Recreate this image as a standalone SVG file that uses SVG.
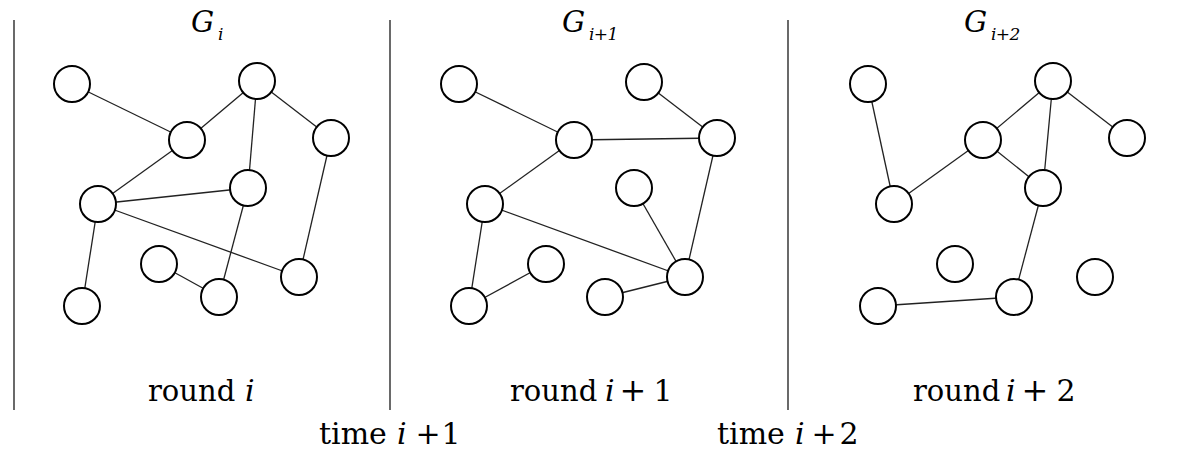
<svg xmlns="http://www.w3.org/2000/svg" width="1181" height="449" viewBox="0 0 1181 449">
<style>
.n{fill:#fff;stroke:#000;stroke-width:2}
.e{stroke:#222;stroke-width:1.3;fill:none}
.sep{stroke:#444;stroke-width:1.6}
.t{font-family:"DejaVu Serif","Liberation Serif",serif;font-size:30px;fill:#000}
.r{font-size:29px}
.it{font-style:italic}
.m{text-anchor:middle}
.p{font-size:32px}
.g{font-family:"DejaVu Serif","Liberation Serif",serif;font-size:29px;font-style:italic;fill:#000}
.s{font-size:17px;letter-spacing:-0.6px}
</style>
<rect width="1181" height="449" fill="#fff"/>
<g id="separators">
<line class="sep" x1="14" y1="20" x2="14" y2="410"/>
<line class="sep" x1="390" y1="20" x2="390" y2="410"/>
<line class="sep" x1="788" y1="20" x2="788" y2="410"/>
</g>
<g id="connectors">
<line class="e" x1="72" y1="84" x2="187" y2="140"/>
<line class="e" x1="187" y1="140" x2="257" y2="81"/>
<line class="e" x1="257" y1="81" x2="248" y2="188"/>
<line class="e" x1="257" y1="81" x2="331" y2="138"/>
<line class="e" x1="187" y1="140" x2="98" y2="204"/>
<line class="e" x1="98" y1="204" x2="248" y2="188"/>
<line class="e" x1="98" y1="204" x2="299" y2="277"/>
<line class="e" x1="98" y1="204" x2="82" y2="306"/>
<line class="e" x1="248" y1="188" x2="219" y2="297"/>
<line class="e" x1="159" y1="264" x2="219" y2="297"/>
<line class="e" x1="331" y1="138" x2="299" y2="277"/>
<line class="e" x1="459" y1="84" x2="574" y2="140"/>
<line class="e" x1="644" y1="82" x2="717" y2="138"/>
<line class="e" x1="574" y1="140" x2="717" y2="138"/>
<line class="e" x1="574" y1="140" x2="485" y2="204"/>
<line class="e" x1="717" y1="138" x2="685" y2="277"/>
<line class="e" x1="634" y1="188" x2="685" y2="277"/>
<line class="e" x1="485" y1="204" x2="685" y2="277"/>
<line class="e" x1="485" y1="204" x2="469" y2="306"/>
<line class="e" x1="469" y1="306" x2="546" y2="264"/>
<line class="e" x1="605" y1="297" x2="685" y2="277"/>
<line class="e" x1="868" y1="84" x2="894" y2="204"/>
<line class="e" x1="983" y1="140" x2="1053" y2="81"/>
<line class="e" x1="1053" y1="81" x2="1043" y2="188"/>
<line class="e" x1="1053" y1="81" x2="1127" y2="138"/>
<line class="e" x1="983" y1="140" x2="894" y2="204"/>
<line class="e" x1="983" y1="140" x2="1043" y2="188"/>
<line class="e" x1="1043" y1="188" x2="1014" y2="297"/>
<line class="e" x1="878" y1="306" x2="1014" y2="297"/>
</g>
<g id="graph-i">
<circle id="n1a" class="n" cx="72" cy="84" r="18"/>
<circle id="n1b" class="n" cx="257" cy="81" r="18"/>
<circle id="n1c" class="n" cx="187" cy="140" r="18"/>
<circle id="n1d" class="n" cx="331" cy="138" r="18"/>
<circle id="n1e" class="n" cx="248" cy="188" r="18"/>
<circle id="n1f" class="n" cx="98" cy="204" r="18"/>
<circle id="n1g" class="n" cx="159" cy="264" r="18"/>
<circle id="n1h" class="n" cx="219" cy="297" r="18"/>
<circle id="n1i" class="n" cx="299" cy="277" r="18"/>
<circle id="n1j" class="n" cx="82" cy="306" r="18"/>
</g>
<g id="graph-i1">
<circle id="n2a" class="n" cx="459" cy="84" r="18"/>
<circle id="n2b" class="n" cx="644" cy="82" r="18"/>
<circle id="n2c" class="n" cx="574" cy="140" r="18"/>
<circle id="n2d" class="n" cx="717" cy="138" r="18"/>
<circle id="n2e" class="n" cx="634" cy="188" r="18"/>
<circle id="n2f" class="n" cx="485" cy="204" r="18"/>
<circle id="n2g" class="n" cx="546" cy="264" r="18"/>
<circle id="n2h" class="n" cx="605" cy="297" r="18"/>
<circle id="n2i" class="n" cx="685" cy="277" r="18"/>
<circle id="n2j" class="n" cx="469" cy="306" r="18"/>
</g>
<g id="graph-i2">
<circle id="n3a" class="n" cx="868" cy="84" r="18"/>
<circle id="n3b" class="n" cx="1053" cy="81" r="18"/>
<circle id="n3c" class="n" cx="983" cy="140" r="18"/>
<circle id="n3d" class="n" cx="1127" cy="138" r="18"/>
<circle id="n3e" class="n" cx="1043" cy="188" r="18"/>
<circle id="n3f" class="n" cx="894" cy="204" r="18"/>
<circle id="n3g" class="n" cx="955" cy="264" r="18"/>
<circle id="n3h" class="n" cx="1014" cy="297" r="18"/>
<circle id="n3i" class="n" cx="1095" cy="277" r="18"/>
<circle id="n3j" class="n" cx="878" cy="306" r="18"/>
</g>
<g id="titles">
<text class="g" x="191" y="32">G<tspan class="s" x="218" y="40">i</tspan></text>
<text class="g" x="562" y="32">G<tspan class="s" x="589" y="40">i+1</tspan></text>
<text class="g" x="964" y="32">G<tspan class="s" x="991" y="40">i+2</tspan></text>
</g>
<g id="labels">
<text class="t r" x="148" y="401">round</text>
<text class="t it" x="245" y="401">i</text>
<text class="t r" x="510" y="401">round</text>
<text class="t it" x="605" y="401">i</text>
<text class="t m p" x="633" y="401">+</text>
<text class="t m" x="663" y="401">1</text>
<text class="t r" x="913" y="401">round</text>
<text class="t it" x="1006" y="401">i</text>
<text class="t m p" x="1035" y="401">+</text>
<text class="t m" x="1066" y="401">2</text>
<text class="t" x="319" y="444">time</text>
<text class="t it" x="397" y="444">i</text>
<text class="t m" x="428" y="444">+</text>
<text class="t m" x="451" y="444">1</text>
<text class="t" x="717" y="444">time</text>
<text class="t it" x="795" y="444">i</text>
<text class="t m" x="824" y="444">+</text>
<text class="t m" x="849" y="444">2</text>
</g>
</svg>
